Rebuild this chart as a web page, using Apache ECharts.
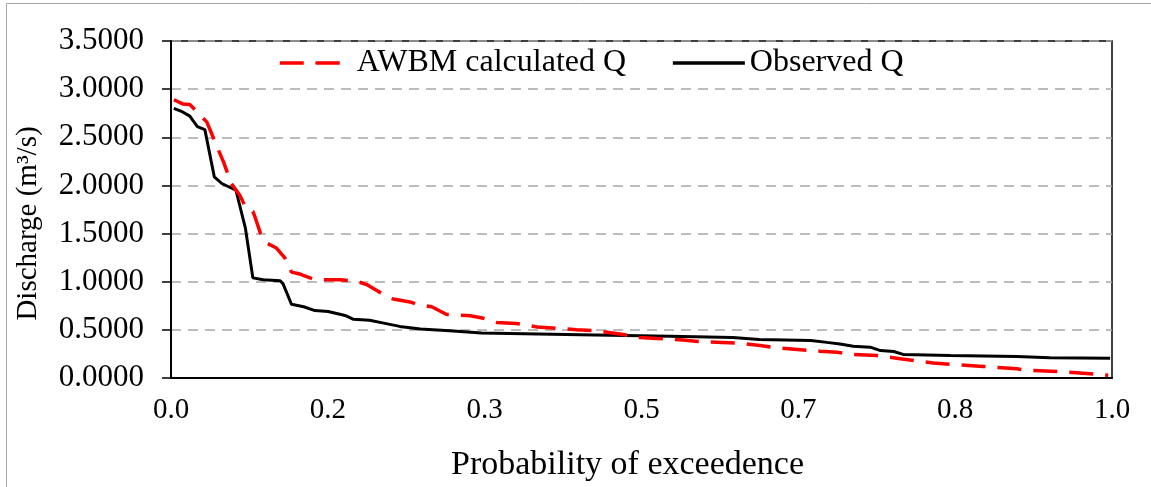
<!DOCTYPE html>
<html>
<head>
<meta charset="utf-8">
<script src="https://cdn.jsdelivr.net/npm/echarts@6/dist/echarts.min.js"></script>
<style>
  html, body { margin: 0; padding: 0; background: #fff; }
  #main { width: 1151px; height: 487px; }
</style>
</head>
<body>
<div id="main"></div>
<script>
// flow duration curves
const seriesNames = ['AWBM calculated Q', 'Observed Q'];

const probCalc = [0.003, 0.013, 0.020, 0.027, 0.038, 0.049, 0.056, 0.064, 0.073, 0.080,
    0.087, 0.089, 0.095, 0.102, 0.112, 0.121, 0.128, 0.137, 0.153, 0.180,
    0.197, 0.208, 0.220, 0.236, 0.254, 0.263, 0.277, 0.293, 0.318, 0.332,
    0.346, 0.367, 0.389, 0.406, 0.431, 0.452, 0.477, 0.498, 0.516, 0.544,
    0.560, 0.605, 0.626, 0.647, 0.690, 0.708, 0.725, 0.750, 0.775, 0.810,
    0.863, 0.899, 0.910, 0.952, 0.996];
const flowCalc = [2.89, 2.845, 2.84, 2.77, 2.66, 2.40, 2.24, 2.02, 1.90, 1.76,
    1.73, 1.68, 1.505, 1.40, 1.35, 1.247, 1.10, 1.08, 1.02, 1.02,
    1.006, 0.97, 0.90, 0.82, 0.79, 0.76, 0.74, 0.66, 0.646, 0.62,
    0.577, 0.567, 0.53, 0.52, 0.50, 0.49, 0.457, 0.42, 0.41, 0.395,
    0.38, 0.36, 0.337, 0.31, 0.278, 0.268, 0.244, 0.234, 0.20, 0.155,
    0.12, 0.096, 0.08, 0.062, 0.028];

const probObs = [0.003, 0.011, 0.020, 0.028, 0.036, 0.038, 0.046, 0.054, 0.069, 0.071,
    0.079, 0.087, 0.098, 0.116, 0.119, 0.128, 0.141, 0.153, 0.167, 0.185,
    0.194, 0.211, 0.226, 0.243, 0.265, 0.296, 0.330, 0.435, 0.530, 0.597,
    0.625, 0.680, 0.697, 0.711, 0.725, 0.743, 0.754, 0.768, 0.778, 0.828,
    0.899, 0.934, 0.998];
const flowObs = [2.80, 2.77, 2.72, 2.61, 2.58, 2.57, 2.09, 2.02, 1.95, 1.93,
    1.56, 1.04, 1.02, 1.01, 0.98, 0.766, 0.74, 0.70, 0.69, 0.65,
    0.61, 0.60, 0.57, 0.536, 0.51, 0.49, 0.467, 0.45, 0.433, 0.42,
    0.40, 0.39, 0.37, 0.354, 0.33, 0.32, 0.285, 0.275, 0.245, 0.234,
    0.224, 0.21, 0.206];

function pairs(xs, ys) {
    return xs.map(function (x, i) { return [x, ys[i]]; });
}

const font = 'Liberation Serif, Times New Roman, serif';
const chart = echarts.init(document.getElementById('main'));
chart.setOption({
    animation: false,
    backgroundColor: '#fff',
    graphic: [{
        type: 'rect',
        shape: { x: 6.5, y: 3.5, width: 1160, height: 500 },
        style: { fill: 'none', stroke: '#a6a6a6', lineWidth: 1 },
        silent: true
    }],
    legend: {
        left: 278,
        top: 47,
        padding: 0,
        itemWidth: 72,
        itemHeight: 2, // keeps the legend's marker dot hidden under the line
        itemGap: 45,
        lineStyle: { width: 3.5 },
        textStyle: { fontFamily: font, fontSize: 32, color: '#000' },
        data: seriesNames
    },
    grid: {
        left: 171,
        right: 39,
        top: 41,
        bottom: 106,
        show: true,
        borderColor: '#000',
        borderWidth: 1.5,
        backgroundColor: 'transparent'
    },
    xAxis: {
        type: 'value',
        min: 0,
        max: 1,
        interval: 1 / 6,
        name: 'Probability of exceedence',
        nameLocation: 'middle',
        nameGap: 70,
        nameTextStyle: { fontFamily: font, fontSize: 34, color: '#000', padding: [0, 28, 0, 0] },
        axisLine: { onZero: false, lineStyle: { color: '#000', width: 2 } },
        axisTick: { show: false },
        axisLabel: {
            margin: 18,
            fontFamily: font, fontSize: 29, color: '#000',
            formatter: function (v) { return v.toFixed(1); }
        },
        splitLine: { show: false }
    },
    yAxis: {
        type: 'value',
        min: 0,
        max: 3.5,
        interval: 0.5,
        name: 'Discharge (m³/s)',
        nameLocation: 'middle',
        nameGap: 128,
        nameTextStyle: { fontFamily: font, fontSize: 29, color: '#000', padding: [0, 28, 0, 0] },
        axisLine: { show: true, lineStyle: { color: '#000', width: 2 } },
        axisTick: { show: true, inside: false, length: 9, lineStyle: { color: '#000', width: 1.5 } },
        axisLabel: {
            margin: 27,
            fontFamily: font, fontSize: 31, color: '#000',
            formatter: function (v) { return v.toFixed(4); }
        },
        splitLine: { show: true, lineStyle: { color: '#a6a6a6', width: 1.5, type: [10, 7] } }
    },
    series: [
        {
            name: seriesNames[0],
            type: 'line',
            symbol: 'none',
            data: pairs(probCalc, flowCalc),
            lineStyle: { color: '#ff0000', width: 3.5, type: [24, 12] },
            itemStyle: { color: '#ff0000' },
            z: 3
        },
        {
            name: seriesNames[1],
            type: 'line',
            symbol: 'none',
            data: pairs(probObs, flowObs),
            lineStyle: { color: '#000', width: 3 },
            itemStyle: { color: '#000' },
            z: 2
        }
    ]
});
</script>
</body>
</html>
